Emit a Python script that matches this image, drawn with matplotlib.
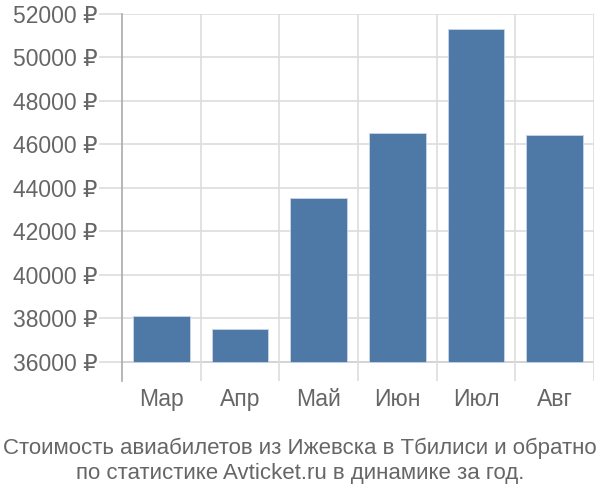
import matplotlib
matplotlib.use("Agg")
import matplotlib.pyplot as plt

months = ["Мар", "Апр", "Май", "Июн", "Июл", "Авг"]
prices = [38100, 37520, 43560, 46510, 51300, 46450]
yticks = [36000, 38000, 40000, 42000, 44000, 46000, 48000, 50000, 52000]
caption_lines = ["Стоимость авиабилетов из Ижевска в Тбилиси и обратно",
                 "по статистике Avticket.ru в динамике за год."]

plt.rcParams['font.family'] = ['Liberation Sans', 'DejaVu Sans']
fig = plt.figure(figsize=(6, 5), dpi=100)
ax = fig.add_axes([122/600, 1-381/500, (594-122)/600, (381-14)/500])

base = 36000
x = list(range(len(months)))
ax.bar(x, [p - base for p in prices], bottom=base, width=0.72,
       color='#4e78a6', edgecolor='#c8d6e8', linewidth=0.6, zorder=3)

ax.set_xlim(-0.5, len(months) - 0.5)
ax.set_ylim(35126, 52000)

for t in yticks:
    ax.axhline(t, color='#cccccc' if t == base else '#dddddd', linewidth=1.2, zorder=1)
for b in [i + 0.5 for i in range(len(months))]:
    ax.axvline(b, color='#dddddd', linewidth=1.2, zorder=1)

ax.set_yticks(yticks)
ax.set_yticklabels([f"{t} ₽" for t in yticks])
ax.tick_params(axis='y', length=16.5, color='#dddddd', width=1.2,
               labelsize=16.5, labelcolor='#666666', pad=1)
ax.set_xticks(x)
ax.set_xticklabels(months)
ax.tick_params(axis='x', length=0, labelsize=16.5, labelcolor='#666666', pad=5)

for s in ['top', 'right', 'bottom']:
    ax.spines[s].set_visible(False)
ax.spines['left'].set_color('#aaaaaa')
ax.spines['left'].set_linewidth(1.2)

fig.text(0.5, 1 - 448/500, caption_lines[0], ha='center', va='center',
         fontsize=16, color='#666666')
fig.text(0.5, 1 - 474/500, caption_lines[1], ha='center', va='center',
         fontsize=16, color='#666666')

fig.savefig("out.png", dpi=100)
